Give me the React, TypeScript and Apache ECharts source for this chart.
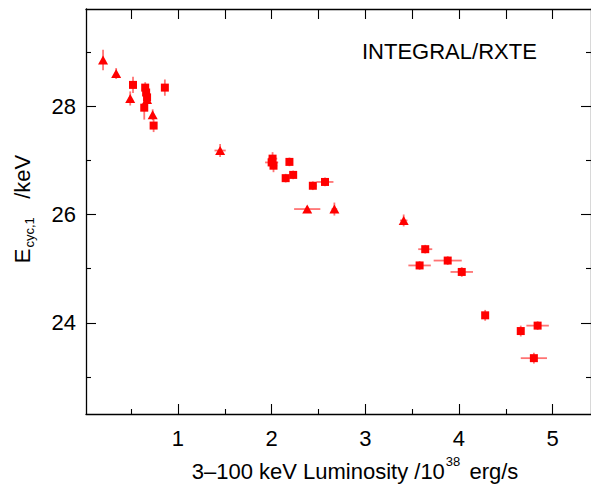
import React, { useEffect, useRef } from "react";
import * as echarts from "echarts";

// ---- data ----
// Triangles
const triX = [0.2, 0.34, 0.49, 0.67, 0.73, 1.45, 2.38, 2.67, 3.41];
const triY = [28.85, 28.6, 28.14, 28.12, 27.84, 27.18, 26.1, 26.1, 25.89];
const triXErr = [0.01, 0.02, 0.02, 0.02, 0.02, 0.06, 0.14, 0.03, 0.04];
const triYErr = [0.19, 0.1, 0.13, 0.1, 0.1, 0.12, 0.05, 0.12, 0.11];

// Squares
const sqX = [0.52, 0.65, 0.66, 0.67, 0.64, 0.74, 0.86, 2.01, 2.0, 2.02, 2.19, 2.15, 2.23, 2.44, 2.57, 3.64, 3.58, 3.88, 4.03, 4.28, 4.66, 4.84, 4.8];
const sqY = [28.39, 28.34, 28.25, 28.16, 27.97, 27.64, 28.34, 27.03, 26.96, 26.9, 26.97, 26.67, 26.73, 26.53, 26.6, 25.36, 25.06, 25.15, 24.94, 24.14, 23.85, 23.95, 23.35];
const sqXErr = [0.02, 0.02, 0.02, 0.02, 0.02, 0.02, 0.02, 0.05, 0.07, 0.04, 0.03, 0.03, 0.03, 0.04, 0.09, 0.075, 0.12, 0.15, 0.12, 0.03, 0.03, 0.12, 0.14];
const sqYErr = [0.15, 0.1, 0.1, 0.1, 0.22, 0.12, 0.15, 0.12, 0.1, 0.12, 0.08, 0.08, 0.08, 0.08, 0.08, 0.08, 0.08, 0.08, 0.09, 0.1, 0.1, 0.08, 0.1];

// Axis ticks
const xMajorTicks = [1, 2, 3, 4, 5];
const xMinorTicks = [0.5, 1.5, 2.5, 3.5, 4.5];
const xTopTicks = [0.5, 1, 1.5, 2, 2.5, 3, 3.5, 4, 4.5, 5];
const yMajorTicks = [24, 26, 28];
const yMinorTicks = [23, 25, 27, 29];

const X_MIN = 0.018;
const X_MAX = 5.41;
const Y_MIN = 22.32;
const Y_MAX = 29.79;

const FONT = "'Liberation Sans', Arial, Helvetica, sans-serif";
const RED = "#ff0000";
const ERR_COLOR = "rgba(255,0,0,0.55)";

function errorBars(xs: number[], ys: number[], xe: number[], ye: number[]) {
  return {
    type: "custom",
    silent: true,
    z: 1,
    encode: { x: 0, y: 1 },
    data: xs.map((x, i) => [x, ys[i], xe[i], ye[i]]),
    renderItem: (_params: any, api: any) => {
      const x = api.value(0);
      const y = api.value(1);
      const dx = api.value(2);
      const dy = api.value(3);
      const l = api.coord([x - dx, y]);
      const r = api.coord([x + dx, y]);
      const t = api.coord([x, y + dy]);
      const b = api.coord([x, y - dy]);
      const style = { stroke: ERR_COLOR, lineWidth: 1.8 };
      return {
        type: "group",
        children: [
          { type: "line", shape: { x1: l[0], y1: l[1], x2: r[0], y2: r[1] }, style },
          { type: "line", shape: { x1: t[0], y1: t[1], x2: b[0], y2: b[1] }, style },
        ],
      };
    },
  };
}

const lineStyle = { color: "#000", width: 1.3 };
const tickStyle = { color: "#000", width: 1.1 };

function xAxisDef(position: string, showLine: boolean, ticks: number[], len: number, labels: boolean) {
  return {
    type: "value",
    position,
    min: X_MIN,
    max: X_MAX,
    splitLine: { show: false },
    axisLine: { show: showLine, onZero: false, lineStyle },
    axisTick: { show: true, inside: true, length: len, customValues: ticks, lineStyle: tickStyle },
    axisLabel: labels
      ? { show: true, customValues: ticks, margin: 13, fontSize: 22, color: "#000", fontFamily: FONT }
      : { show: false },
  };
}

function yAxisDef(position: string, showLine: boolean, ticks: number[], len: number, labels: boolean) {
  return {
    type: "value",
    position,
    min: Y_MIN,
    max: Y_MAX,
    splitLine: { show: false },
    axisLine: { show: showLine, onZero: false, lineStyle },
    axisTick: { show: true, inside: true, length: len, customValues: ticks, lineStyle: tickStyle },
    axisLabel: labels
      ? { show: true, customValues: ticks, margin: 10, fontSize: 22, color: "#000", fontFamily: FONT }
      : { show: false },
  };
}

export default function App() {
  const ref = useRef<HTMLDivElement>(null);
  useEffect(() => {
    if (!ref.current) return;
    const chart = echarts.init(ref.current, undefined, { renderer: "svg" });
    chart.setOption({
      animation: false,
      backgroundColor: "#fff",
      grid: { left: 86, top: 9, right: -2, bottom: 77, containLabel: false },
      xAxis: [
        xAxisDef("bottom", true, xMajorTicks, 10, true),
        xAxisDef("bottom", false, xMinorTicks, 5, false),
        xAxisDef("top", true, xTopTicks, 10, false),
      ],
      yAxis: [
        yAxisDef("left", true, yMajorTicks, 10, true),
        yAxisDef("left", false, yMinorTicks, 5, false),
        yAxisDef("right", true, yMajorTicks, 10, false),
        yAxisDef("right", false, yMinorTicks, 5, false),
      ],
      series: [
        errorBars(triX, triY, triXErr, triYErr),
        errorBars(sqX, sqY, sqXErr, sqYErr),
        {
          type: "scatter",
          name: "triangles",
          symbol: "triangle",
          symbolSize: [10, 9],
          itemStyle: { color: RED, opacity: 1 },
          z: 3,
          data: triX.map((x, i) => [x, triY[i]]),
        },
        {
          type: "scatter",
          name: "squares",
          symbol: "rect",
          symbolSize: 8,
          itemStyle: { color: RED, opacity: 1 },
          z: 3,
          data: sqX.map((x, i) => [x, sqY[i]]),
        },
      ],
      graphic: [
        {
          type: "text",
          x: 362,
          y: 51,
          style: { text: "INTEGRAL/RXTE", fontSize: 22, fontFamily: FONT, fill: "#000", align: "left", verticalAlign: "middle" },
        },
        {
          type: "text",
          x: 355,
          y: 471,
          style: {
            text: "3–100 keV Luminosity /10{sup|38} erg/s",
            fontSize: 22,
            fontFamily: FONT,
            fill: "#000",
            align: "center",
            verticalAlign: "middle",
            lineHeight: 36,
            rich: {
              sup: { fontSize: 13, fontFamily: FONT, fill: "#000", verticalAlign: "top", lineHeight: 12, padding: [2, 3, 0, 1] },
            },
          },
        },
        {
          type: "text",
          x: 22,
          y: 209,
          rotation: Math.PI / 2,
          style: {
            text: "E{sub|cyc,1}   /keV",
            fontSize: 22,
            fontFamily: FONT,
            fill: "#000",
            align: "center",
            verticalAlign: "middle",
            lineHeight: 28,
            rich: {
              sub: { fontSize: 13, fontFamily: FONT, fill: "#000", verticalAlign: "bottom", lineHeight: 12, padding: [0, 0, 0, 1] },
            },
          },
        },
      ],
    });
    return () => chart.dispose();
  }, []);
  return <div ref={ref} style={{ position: "fixed", left: 0, top: 0, width: 591, height: 491 }} />;
}
